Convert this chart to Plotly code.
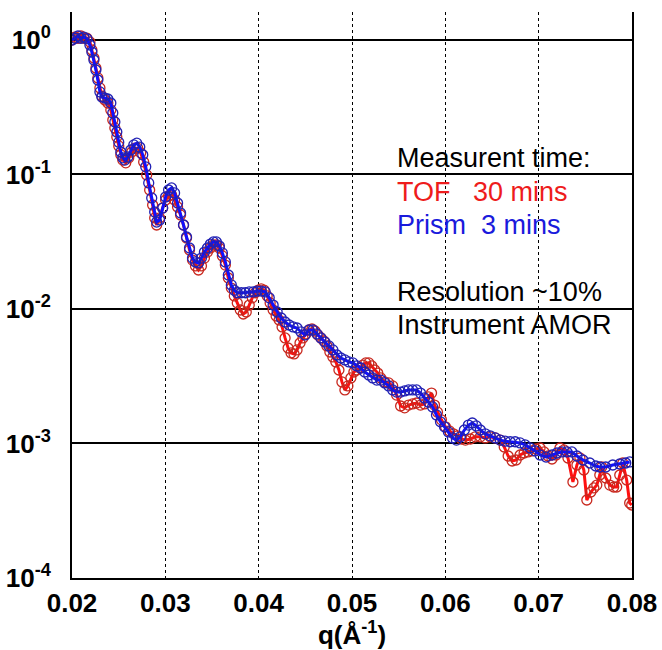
import plotly.graph_objects as go

# TOF (30 mins) data
q_tof = [0.02000, 0.02032, 0.02064, 0.02096, 0.02128, 0.02160, 0.02192, 0.02213, 0.02235, 0.02256,
         0.02277, 0.02299, 0.02320, 0.02352, 0.02384, 0.02416, 0.02437, 0.02459, 0.02480, 0.02501,
         0.02523, 0.02544, 0.02576, 0.02608, 0.02640, 0.02672, 0.02704, 0.02736, 0.02768, 0.02800,
         0.02832, 0.02864, 0.02886, 0.02907, 0.02939, 0.02971, 0.03003, 0.03035, 0.03067, 0.03099,
         0.03131, 0.03163, 0.03195, 0.03227, 0.03259, 0.03291, 0.03323, 0.03355, 0.03387, 0.03419,
         0.03451, 0.03483, 0.03515, 0.03547, 0.03579, 0.03611, 0.03643, 0.03675, 0.03707, 0.03739,
         0.03771, 0.03803, 0.03835, 0.03867, 0.03899, 0.03931, 0.03963, 0.03995, 0.04027, 0.04059,
         0.04091, 0.04123, 0.04155, 0.04187, 0.04219, 0.04251, 0.04283, 0.04315, 0.04347, 0.04379,
         0.04411, 0.04443, 0.04475, 0.04507, 0.04539, 0.04571, 0.04603, 0.04635, 0.04667, 0.04699,
         0.04731, 0.04763, 0.04795, 0.04827, 0.04860, 0.04892, 0.04924, 0.04956, 0.04988, 0.05020,
         0.05052, 0.05084, 0.05116, 0.05148, 0.05180, 0.05212, 0.05244, 0.05276, 0.05308, 0.05350,
         0.05393, 0.05436, 0.05478, 0.05521, 0.05564, 0.05606, 0.05649, 0.05692, 0.05734, 0.05777,
         0.05820, 0.05852, 0.05884, 0.05916, 0.05958, 0.06001, 0.06044, 0.06087, 0.06129, 0.06172,
         0.06215, 0.06268, 0.06321, 0.06375, 0.06428, 0.06481, 0.06535, 0.06588, 0.06631, 0.06673,
         0.06716, 0.06759, 0.06801, 0.06844, 0.06887, 0.06930, 0.06972, 0.07015, 0.07058, 0.07100,
         0.07143, 0.07186, 0.07228, 0.07271, 0.07314, 0.07367, 0.07410, 0.07442, 0.07484, 0.07516,
         0.07559, 0.07591, 0.07623, 0.07655, 0.07676, 0.07719, 0.07762, 0.07804, 0.07836, 0.07869,
         0.07901, 0.07943, 0.07975, 0.07997]
r_tof = [1.00, 1.05, 1.03, 1.07, 1.03, 1.03, 0.966, 0.843, 0.735, 0.619,
         0.522, 0.440, 0.383, 0.358, 0.340, 0.302, 0.254, 0.222, 0.190, 0.163,
         0.140, 0.128, 0.122, 0.133, 0.147, 0.157, 0.157, 0.145, 0.124, 0.0992,
         0.0767, 0.0593, 0.0475, 0.0421, 0.0475, 0.0563, 0.0646, 0.0692, 0.0704, 0.0646,
         0.0573, 0.0500, 0.0421, 0.0337, 0.0275, 0.0231, 0.0209, 0.0195, 0.0209, 0.0239,
         0.0265, 0.0284, 0.0299, 0.0299, 0.0284, 0.0248, 0.0212, 0.0170, 0.0143, 0.0125,
         0.0111, 0.00983, 0.00918, 0.00950, 0.0107, 0.0121, 0.0132, 0.0138, 0.0141, 0.0138,
         0.0125, 0.0111, 0.00983, 0.00887, 0.00828, 0.00735, 0.00609, 0.00513, 0.00471, 0.00463,
         0.00496, 0.00559, 0.00609, 0.00652, 0.00698, 0.00710, 0.00686, 0.00641, 0.00609, 0.00578,
         0.00531, 0.00479, 0.00440, 0.00404, 0.00352, 0.00287, 0.00250, 0.00268, 0.00307, 0.00340,
         0.00352, 0.00364, 0.00383, 0.00397, 0.00397, 0.00377, 0.00352, 0.00334, 0.00307, 0.00287,
         0.00282, 0.00268, 0.00229, 0.00190, 0.00184, 0.00193, 0.00197, 0.00200, 0.00193, 0.00197,
         0.00222, 0.00237, 0.00193, 0.00171, 0.00150, 0.00133, 0.00124, 0.00118, 0.00114, 0.00108,
         0.00106, 0.00108, 0.00112, 0.00112, 0.00110, 0.00112, 0.00110, 0.00106, 0.000942, 0.000807,
         0.000741, 0.000754, 0.000821, 0.000850, 0.000865, 0.000880, 0.000910, 0.000926, 0.000865, 0.000807,
         0.000767, 0.000821, 0.000926, 0.000895, 0.000780, 0.000517, 0.000692, 0.000780, 0.000635, 0.000380,
         0.000436, 0.000467, 0.000491, 0.000583, 0.000669, 0.000554, 0.000491, 0.000475, 0.000475, 0.000583,
         0.000716, 0.000535, 0.000361, 0.000349]

# Prism (3 mins) data
q_prism = [0.02000, 0.02032, 0.02064, 0.02096, 0.02128, 0.02160, 0.02192, 0.02213, 0.02235, 0.02256,
           0.02277, 0.02299, 0.02320, 0.02352, 0.02384, 0.02416, 0.02437, 0.02459, 0.02480, 0.02501,
           0.02523, 0.02544, 0.02566, 0.02598, 0.02630, 0.02662, 0.02694, 0.02726, 0.02758, 0.02790,
           0.02822, 0.02854, 0.02886, 0.02907, 0.02939, 0.02971, 0.03003, 0.03035, 0.03067, 0.03099,
           0.03131, 0.03163, 0.03195, 0.03227, 0.03259, 0.03291, 0.03323, 0.03355, 0.03387, 0.03419,
           0.03451, 0.03483, 0.03515, 0.03547, 0.03579, 0.03611, 0.03643, 0.03675, 0.03707, 0.03739,
           0.03771, 0.03814, 0.03857, 0.03899, 0.03942, 0.03985, 0.04027, 0.04070, 0.04113, 0.04155,
           0.04198, 0.04241, 0.04283, 0.04326, 0.04369, 0.04411, 0.04454, 0.04497, 0.04539, 0.04582,
           0.04625, 0.04667, 0.04710, 0.04753, 0.04795, 0.04838, 0.04881, 0.04924, 0.04966, 0.05009,
           0.05052, 0.05094, 0.05137, 0.05180, 0.05222, 0.05265, 0.05308, 0.05350, 0.05393, 0.05436,
           0.05478, 0.05521, 0.05564, 0.05606, 0.05649, 0.05692, 0.05734, 0.05777, 0.05820, 0.05863,
           0.05905, 0.05948, 0.05991, 0.06033, 0.06076, 0.06119, 0.06161, 0.06204, 0.06247, 0.06289,
           0.06332, 0.06375, 0.06428, 0.06481, 0.06535, 0.06588, 0.06641, 0.06695, 0.06748, 0.06801,
           0.06855, 0.06908, 0.06962, 0.07015, 0.07079, 0.07143, 0.07196, 0.07250, 0.07303, 0.07356,
           0.07410, 0.07474, 0.07548, 0.07612, 0.07655, 0.07719, 0.07794, 0.07869, 0.07933, 0.07975]
r_prism = [1.00, 1.03, 1.07, 1.03, 1.05, 1.02, 0.918, 0.814, 0.710, 0.598,
           0.504, 0.411, 0.377, 0.370, 0.364, 0.340, 0.287, 0.246, 0.207, 0.174,
           0.147, 0.133, 0.128, 0.135, 0.152, 0.166, 0.171, 0.160, 0.140, 0.114,
           0.0865, 0.0669, 0.0526, 0.0443, 0.0459, 0.0563, 0.0680, 0.0767, 0.0794, 0.0729,
           0.0614, 0.0517, 0.0421, 0.0343, 0.0284, 0.0239, 0.0224, 0.0220, 0.0239, 0.0265,
           0.0284, 0.0304, 0.0315, 0.0315, 0.0294, 0.0261, 0.0224, 0.0179, 0.0151, 0.0138,
           0.0132, 0.0132, 0.0132, 0.0134, 0.0134, 0.0136, 0.0136, 0.0134, 0.0121, 0.0107,
           0.00950, 0.00857, 0.00800, 0.00760, 0.00735, 0.00722, 0.00675, 0.00641, 0.00698, 0.00698,
           0.00652, 0.00609, 0.00568, 0.00531, 0.00496, 0.00455, 0.00432, 0.00418, 0.00404, 0.00397,
           0.00377, 0.00364, 0.00340, 0.00323, 0.00307, 0.00296, 0.00296, 0.00282, 0.00268, 0.00250,
           0.00241, 0.00241, 0.00246, 0.00250, 0.00250, 0.00250, 0.00237, 0.00218, 0.00203, 0.00187,
           0.00163, 0.00145, 0.00133, 0.00122, 0.00110, 0.00106, 0.00112, 0.00126, 0.00137, 0.00142,
           0.00135, 0.00126, 0.00118, 0.00114, 0.00110, 0.00106, 0.00104, 0.00103, 0.00103, 0.00101,
           0.000975, 0.000926, 0.000880, 0.000821, 0.000793, 0.000821, 0.000850, 0.000865, 0.000865, 0.000865,
           0.000807, 0.000754, 0.000716, 0.000680, 0.000669, 0.000669, 0.000692, 0.000704, 0.000716, 0.000729]

x_ticks = [0.02, 0.03, 0.04, 0.05, 0.06, 0.07, 0.08]
x_ticklabels = ["0.02", "0.03", "0.04", "0.05", "0.06", "0.07", "0.08"]
y_ticks = [1, 0.1, 0.01, 0.001, 0.0001]
y_ticklabels = ["10<sup>0</sup>", "10<sup>-1</sup>", "10<sup>-2</sup>", "10<sup>-3</sup>", "10<sup>-4</sup>"]

annot_lines = [
    ("Measurent time:", "black"),
    ("TOF\u00a0\u00a0\u00a030 mins", "#ee1c1c"),
    ("Prism\u00a0\u00a03 mins", "#1a1adc"),
    ("Resolution ~10%", "black"),
    ("Instrument AMOR", "black"),
]
annot_y = [0.742, 0.682, 0.624, 0.505, 0.447]

FONT = "Liberation Sans, Arial, sans-serif"

fig = go.Figure()
fig.add_trace(go.Scatter(
    x=q_tof, y=r_tof, mode="lines+markers", name="TOF",
    line=dict(color="#ff1010", width=3),
    marker=dict(symbol="circle-open", size=10, color="#c8281e", line=dict(width=1.3, color="#c8281e")),
))
fig.add_trace(go.Scatter(
    x=q_prism, y=r_prism, mode="lines+markers", name="Prism",
    line=dict(color="#1010ff", width=3),
    marker=dict(symbol="circle-open", size=10, color="#2020b4", line=dict(width=1.3, color="#2020b4")),
))

for (txt, col), yy in zip(annot_lines, annot_y):
    fig.add_annotation(x=0.577, y=yy, xref="paper", yref="paper", text=txt, showarrow=False,
                       xanchor="left", yanchor="middle",
                       font=dict(family=FONT, size=27, color=col))

fig.update_layout(
    width=662, height=650,
    margin=dict(l=72, r=30, t=12, b=72, autoexpand=False),
    paper_bgcolor="white", plot_bgcolor="white",
    showlegend=False,
    font=dict(family=FONT, color="black"),
)
fig.update_xaxes(
    range=[0.02, 0.08], tickvals=x_ticks, ticktext=x_ticklabels,
    showgrid=True, gridcolor="black", gridwidth=1, griddash="dot",
    showline=True, linecolor="black", linewidth=2, mirror=False,
    zeroline=False, ticks="", ticklabelstandoff=1, automargin=False,
    tickfont=dict(size=26, family=FONT, weight="bold"),
    title=dict(text="q(Å<sup>-1</sup>)", standoff=13,
               font=dict(size=26, family=FONT, weight="bold")),
)
fig.update_yaxes(
    type="log", range=[-4, 0.208], tickvals=y_ticks, ticktext=y_ticklabels,
    showgrid=True, gridcolor="black", gridwidth=1.5,
    showline=True, linecolor="black", linewidth=2, mirror=True,
    zeroline=False, ticks="", ticklabelstandoff=14, automargin=False,
    tickfont=dict(size=26, family=FONT, weight="bold"),
)

fig.write_html(
    "out.html",
    config={"displayModeBar": False},
    post_script="document.body.style.margin='0';document.body.style.padding='0';document.body.style.overflow='hidden';",
)
